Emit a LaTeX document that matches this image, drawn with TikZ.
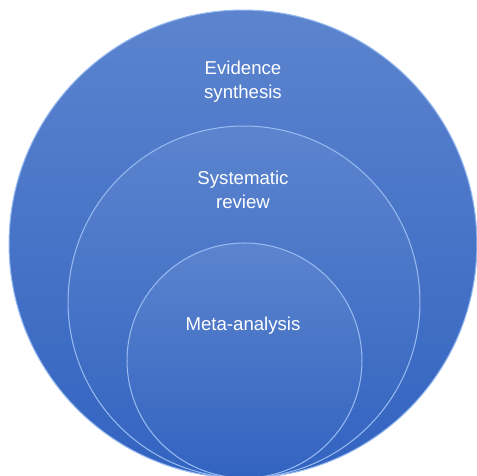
\documentclass[tikz,border=0pt]{standalone}
\usepackage{fontspec}
\setmainfont{Liberation Sans}
\usepackage{tikz}
\usetikzlibrary{positioning}

\definecolor{vtop}{RGB}{92,132,206}
\definecolor{vmid}{RGB}{64,112,200}
\definecolor{vbot}{RGB}{50,99,192}
\definecolor{vrim}{RGB}{150,185,240}

\begin{document}
\begin{tikzpicture}[x=0.02cm,y=0.02cm,
	ring/.style={circle,draw=vrim,line width=0.6pt,top color=vtop,middle color=vmid,bottom color=vbot,inner sep=0pt},
	tag/.style={text=white,align=center,font=\fontsize{10.6}{13.6}\selectfont}]
		\useasboundingbox (0,0) rectangle (477,476);

		%circles
		\node[ring,minimum size=9.36cm] (evid) at (243,232) {};
		\node[ring,minimum size=7.04cm] (sysrev) at (244,174) {};
		\node[ring,minimum size=4.7cm] (meta) at (244.5,115.5) {};

		%labels
		\node[tag] (evidtxt) at (243,394) {Evidence\\synthesis};
		\node[tag] (sysrevtxt) at (243,286) {Systematic\\review};
		\node[tag] (metatxt) at (243,150) {Meta-analysis};

\end{tikzpicture}
\end{document}
